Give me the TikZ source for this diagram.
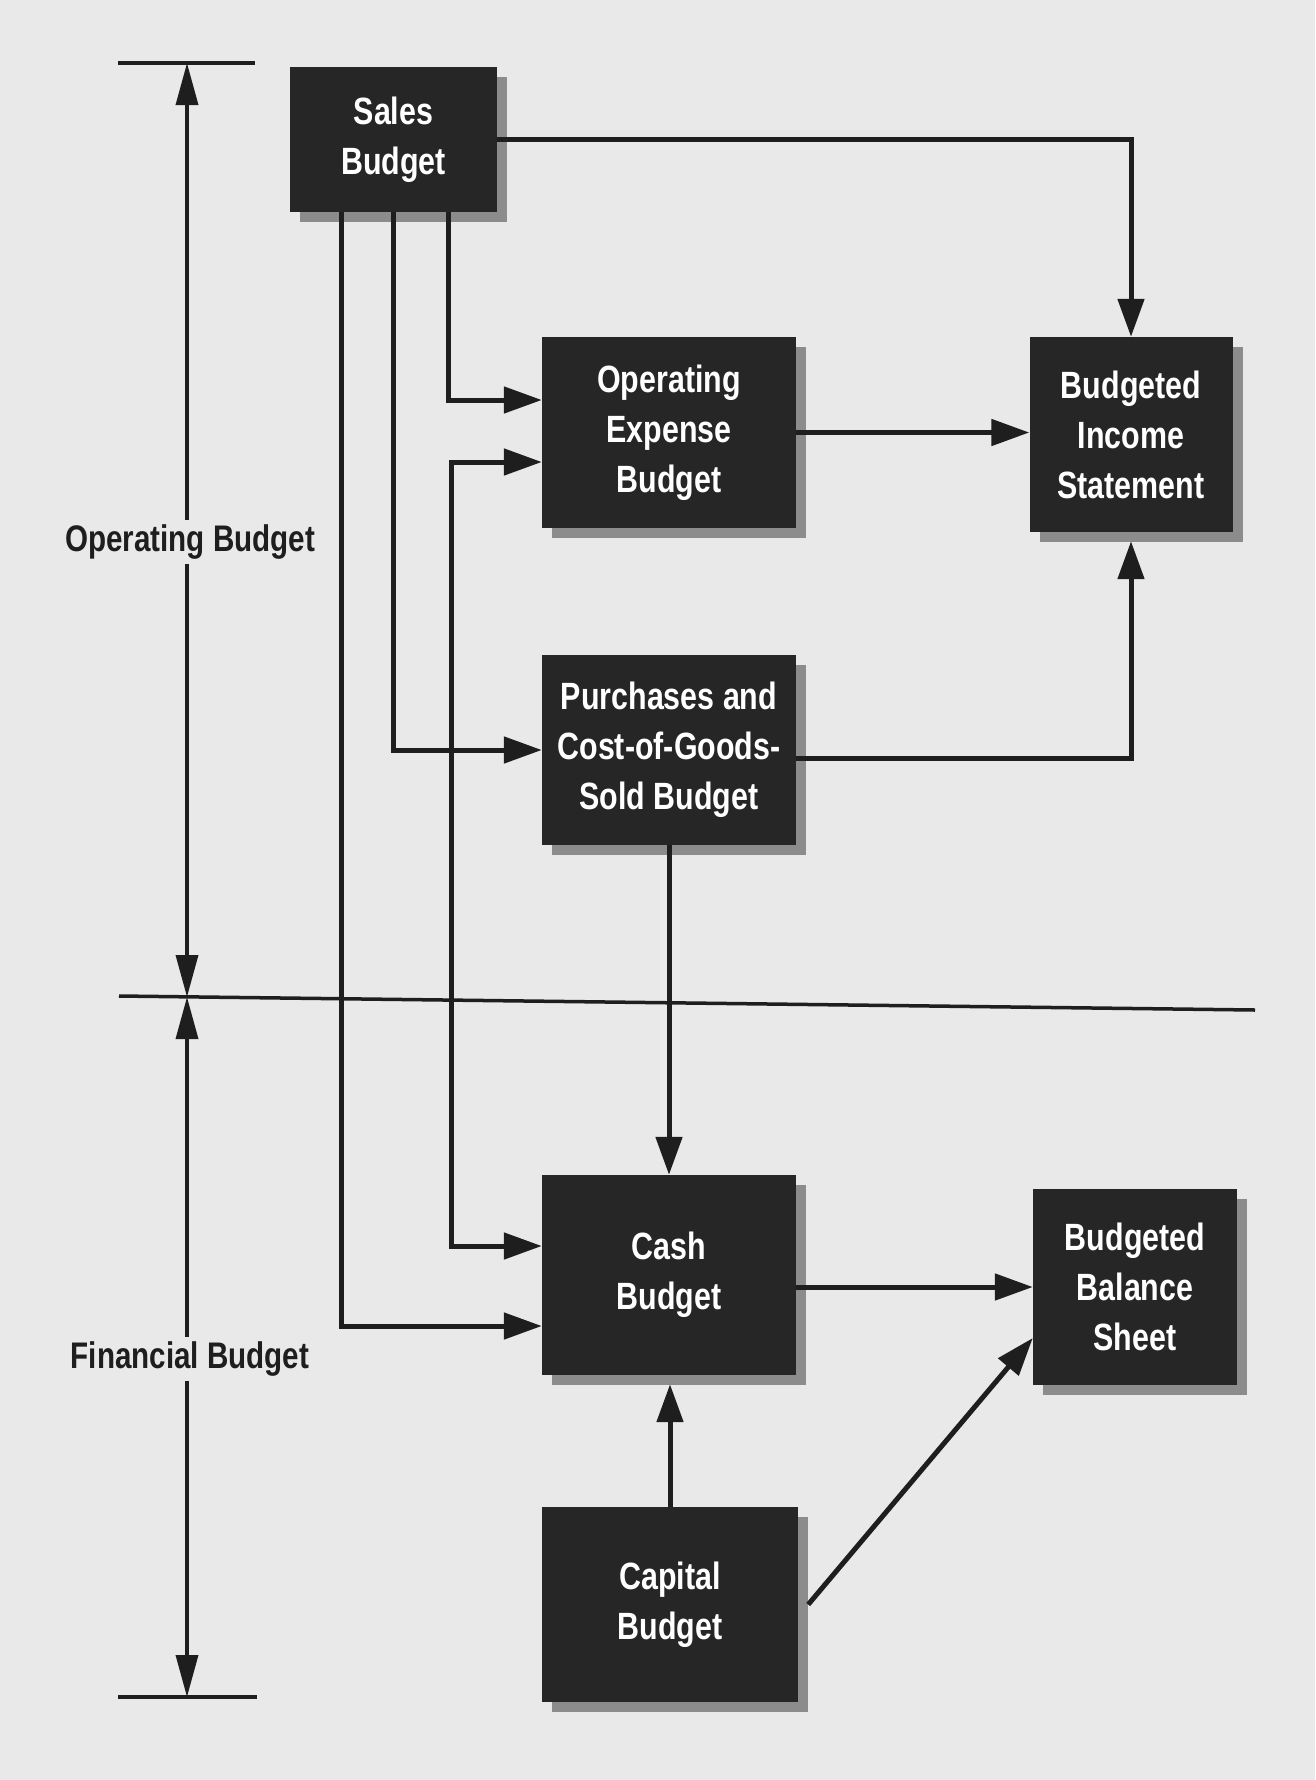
\documentclass[tikz,border=0pt]{standalone}
\usepackage{fontspec}
\newfontfamily\boxfont[FakeStretch=0.8]{Liberation Sans}
\usetikzlibrary{arrows.meta,shadows}
\definecolor{paper}{HTML}{E9E9E9}
\definecolor{ink}{HTML}{1E1E1E}
\definecolor{boxfill}{HTML}{262626}
\definecolor{shade}{HTML}{8C8C8C}
\begin{document}
\begin{tikzpicture}[x=1pt,y=-1pt,
  bbox/.style={fill=boxfill, draw=none, text=white, align=center, inner sep=0pt,
    font=\boxfont\bfseries\fontsize{38}{50}\selectfont,
    drop shadow={shadow xshift=10pt, shadow yshift=-10pt, fill=shade, opacity=1}},
  conn/.style={draw=ink, line width=5pt, -{Triangle[length=38pt,width=26pt]}},
  conn2/.style={draw=ink, line width=5pt, {Triangle[length=38pt,width=26pt]}-{Triangle[length=38pt,width=26pt]}},
  span/.style={draw=ink, line width=3.5pt, {Triangle[length=42pt,width=22pt]}-{Triangle[length=42pt,width=22pt]}},
  rule/.style={draw=ink, line width=3.5pt},
  sidelabel/.style={fill=paper, text=ink, inner sep=5pt, font=\boxfont\bfseries\fontsize{37}{40}\selectfont}
]
\fill[paper] (0,0) rectangle (1315,1780);
\useasboundingbox (0,0) rectangle (1315,1780);

% boxes
\node[bbox, minimum width=207pt, minimum height=145pt] (sales) at (393.5,139.5) {Sales\\Budget};
\node[bbox, minimum width=254pt, minimum height=191pt] (opex) at (669,432.5) {Operating\\Expense\\Budget};
\node[bbox, minimum width=203pt, minimum height=195pt] (income) at (1131,434.5) {Budgeted\\Income\\Statement};
\node[bbox, minimum width=254pt, minimum height=190pt] (purch) at (669,750) {Purchases and\\Cost-of-Goods-\\Sold Budget};
\node[bbox, minimum width=254pt, minimum height=200pt] (cash) at (669,1275) {Cash\\Budget};
\node[bbox, minimum width=204pt, minimum height=196pt] (balance) at (1135,1287) {Budgeted\\Balance\\Sheet};
\node[bbox, minimum width=256pt, minimum height=195pt] (capital) at (670,1604.5) {Capital\\Budget};

% left scale
\coordinate (tl) at (118,63);
\coordinate (tr) at (255,63);
\coordinate (dl) at (119,996);
\coordinate (dr) at (1255,1010);
\coordinate (bl) at (118,1697);
\coordinate (br) at (257,1697);
\coordinate (ta) at (187,63);
\coordinate (da) at (187,997);
\coordinate (ba) at (187,1697);
\draw[rule] (tl) -- (tr);
\draw[rule] (dl) -- (dr);
\draw[rule] (bl) -- (br);
\draw[span] (ta) -- (da);
\draw[span] (da) -- (ba);
\node[sidelabel] (oplabel) at (190,542) {Operating Budget};
\node[sidelabel] (finlabel) at (190,1359) {Financial Budget};

% connectors
\draw[conn] (sales.east) -| (income.north);
\draw[conn] ([xshift=54.5pt]sales.south) |- ([yshift=32.5pt]opex.west);
\draw[conn] (sales.south) |- (purch.west);
\draw[conn] ([xshift=-52.5pt]sales.south) |- ([yshift=-51pt]cash.west);
\draw[conn2] ([yshift=-29.5pt]opex.west) -- ++(-90,0) |- ([yshift=29pt]cash.west);
\draw[conn] (opex.east) -- (opex.east -| income.west);
\draw[conn] ([yshift=-8pt]purch.east) -| ([yshift=-9pt]income.south);
\draw[conn] (purch.south) -- (cash.north);
\draw[conn] (cash.east |- balance.west) -- (balance.west);
\draw[conn] (capital.north) -- ([yshift=-9pt]capital.north |- cash.south);
\draw[conn] ([xshift=10pt]capital.east) -- ([yshift=-51pt]balance.west);
\end{tikzpicture}
\end{document}
